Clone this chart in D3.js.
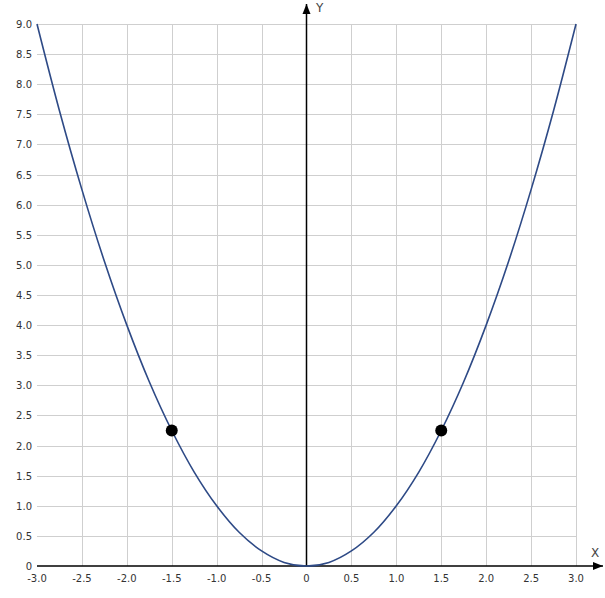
<!DOCTYPE html>
<html>
<head>
<meta charset="utf-8">
<script src="https://cdn.jsdelivr.net/npm/d3@7"></script>
<style>
  body { margin: 0; background: #fff; }
  text { font-family: "DejaVu Sans", Verdana, sans-serif; }
</style>
</head>
<body>
<svg id="chart" width="605" height="598"></svg>
<script>
// curve samples (y = x^2 shape)
const curveX = [-3, -2.75, -2.5, -2.25, -2, -1.75, -1.5, -1.25, -1, -0.75, -0.5, -0.25, 0,
                0.25, 0.5, 0.75, 1, 1.25, 1.5, 1.75, 2, 2.25, 2.5, 2.75, 3]
const curveY = [9, 7.56, 6.25, 5.06, 4, 3.06, 2.25, 1.56, 1, 0.56, 0.25, 0.06, 0,
                0.06, 0.25, 0.56, 1, 1.56, 2.25, 3.06, 4, 5.06, 6.25, 7.56, 9]

// marked points
const dotX = [-1.5, 1.5]
const dotY = [2.25, 2.25]

const xTicks = [-3, -2.5, -2, -1.5, -1, -0.5, 0, 0.5, 1, 1.5, 2, 2.5, 3]
const yTicks = [0, 0.5, 1, 1.5, 2, 2.5, 3, 3.5, 4, 4.5, 5, 5.5, 6, 6.5, 7, 7.5, 8, 8.5, 9]

const svg = d3.select("#chart")

const x = d3.scaleLinear().domain([-3, 3]).range([37, 576])
const y = d3.scaleLinear().domain([0, 9]).range([566, 24])

const fmt = function(v) { return v === 0 ? "0" : v.toFixed(1) }

// grid
const grid = svg.append("g").attr("stroke", "#cfcfcf").attr("stroke-width", 1)
grid.selectAll("line.v")
  .data(xTicks.filter(function(d) { return d > -3 && d !== 0 }))
  .enter().append("line")
  .attr("x1", function(d) { return Math.round(x(d)) + 0.5 })
  .attr("x2", function(d) { return Math.round(x(d)) + 0.5 })
  .attr("y1", y(9)).attr("y2", y(0))
grid.selectAll("line.h")
  .data(yTicks.filter(function(d) { return d > 0 }))
  .enter().append("line")
  .attr("y1", function(d) { return Math.round(y(d)) + 0.5 })
  .attr("y2", function(d) { return Math.round(y(d)) + 0.5 })
  .attr("x1", x(-3)).attr("x2", x(3))

// tick labels
svg.append("g").selectAll("text")
  .data(yTicks)
  .enter().append("text")
  .attr("x", 32)
  .attr("y", function(d) { return y(d) + 4 })
  .attr("text-anchor", "end")
  .attr("font-size", 10)
  .attr("fill", "#333")
  .text(fmt)

svg.append("g").selectAll("text")
  .data(xTicks)
  .enter().append("text")
  .attr("x", function(d) { return x(d) })
  .attr("y", 582)
  .attr("text-anchor", "middle")
  .attr("font-size", 10)
  .attr("fill", "#333")
  .text(fmt)

// axes with arrows
const defs = svg.append("defs")
defs.append("marker")
  .attr("id", "arrow")
  .attr("viewBox", "0 0 10 10")
  .attr("refX", 10).attr("refY", 5)
  .attr("markerWidth", 10).attr("markerHeight", 10)
  .attr("markerUnits", "userSpaceOnUse")
  .attr("orient", "auto")
  .append("path")
  .attr("d", "M0,1 L10,5 L0,9 Z")
  .attr("fill", "#000")

svg.append("line")
  .attr("x1", x(-3)).attr("x2", 603)
  .attr("y1", y(0)).attr("y2", y(0))
  .attr("stroke", "#000").attr("stroke-width", 1.5)
  .attr("marker-end", "url(#arrow)")

svg.append("line")
  .attr("x1", x(0)).attr("x2", x(0))
  .attr("y1", y(0)).attr("y2", 4)
  .attr("stroke", "#000").attr("stroke-width", 1.5)
  .attr("marker-end", "url(#arrow)")

svg.append("text").attr("x", 591).attr("y", 557)
  .attr("font-size", 12).attr("fill", "#444").text("X")
svg.append("text").attr("x", 316).attr("y", 12)
  .attr("font-size", 12).attr("fill", "#444").text("Y")

// curve
const pts = curveX.map(function(v, i) { return [v, curveY[i]] })
const line = d3.line()
  .x(function(d) { return x(d[0]) })
  .y(function(d) { return y(d[1]) })
  .curve(d3.curveCatmullRom)

svg.append("path")
  .datum(pts)
  .attr("d", line)
  .attr("fill", "none")
  .attr("stroke", "#2e4a86")
  .attr("stroke-width", 1.6)

// dots
svg.append("g").selectAll("circle")
  .data(dotX)
  .enter().append("circle")
  .attr("cx", function(d) { return x(d) })
  .attr("cy", function(d, i) { return y(dotY[i]) })
  .attr("r", 6)
  .attr("fill", "#000")
</script>
</body>
</html>
